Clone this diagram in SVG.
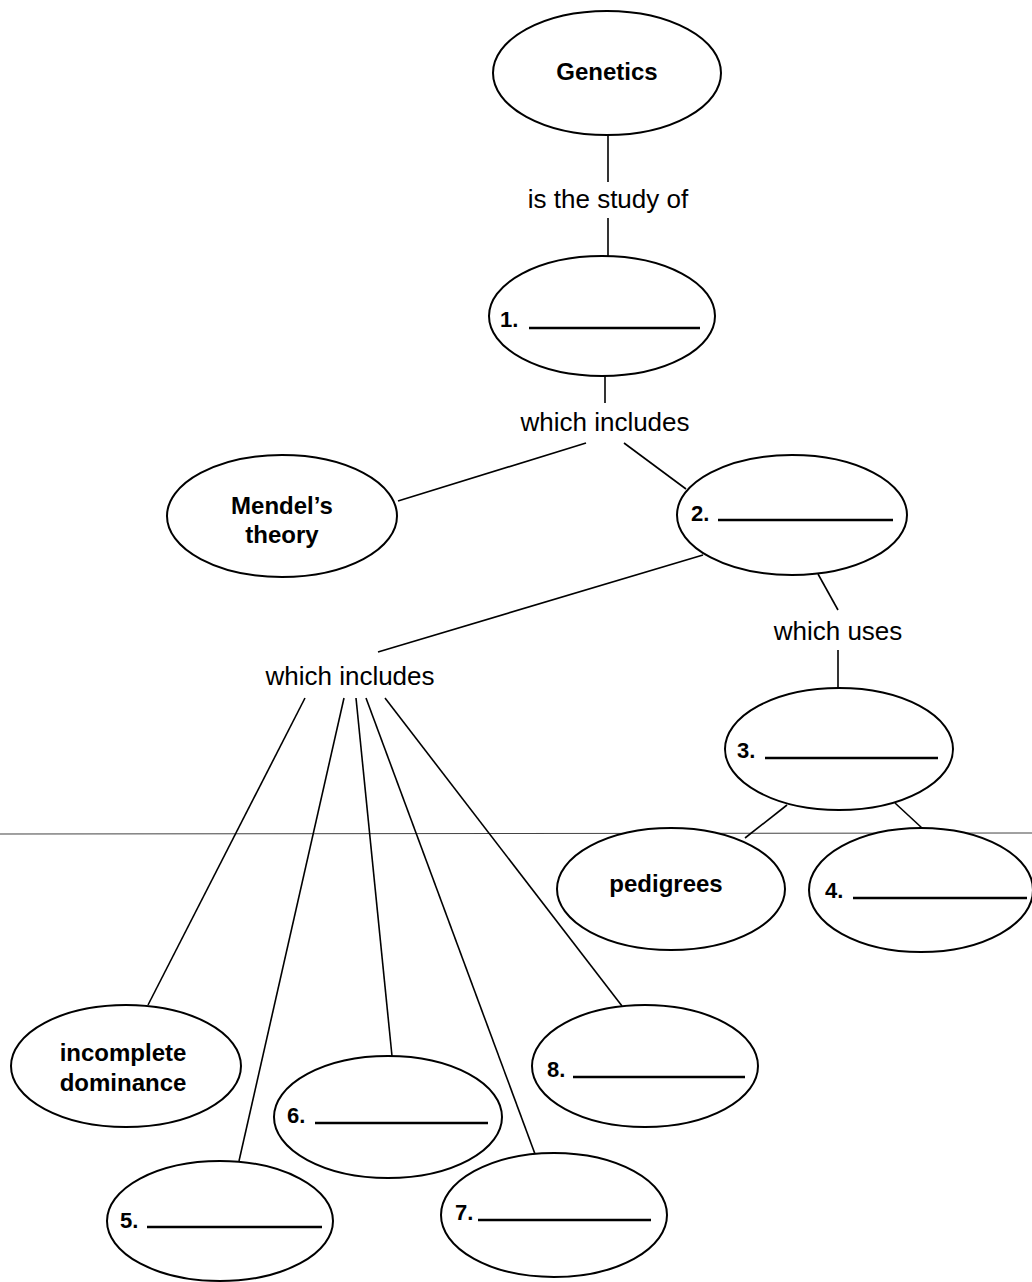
<svg xmlns="http://www.w3.org/2000/svg" width="1032" height="1282" viewBox="0 0 1032 1282">
<style>
.node ellipse{fill:#fff;stroke:#000;stroke-width:2}
.lbl{font-family:"Liberation Sans",Arial,sans-serif;font-weight:bold;font-size:24px;fill:#000;text-anchor:middle}
.num{font-family:"Liberation Sans",Arial,sans-serif;font-weight:bold;font-size:22px;fill:#000}
.blank{stroke:#000;stroke-width:2.5}
.link{font-family:"Liberation Sans",Arial,sans-serif;font-size:26px;fill:#000;text-anchor:middle}
#connectors line{stroke:#000;stroke-width:1.6}
</style>
<rect width="1032" height="1282" fill="#fff"/>
<line x1="0" y1="834" x2="1032" y2="833" stroke="#444" stroke-width="1.2"/>
<g id="connectors">
<line x1="608" y1="135" x2="608" y2="182"/>
<line x1="608" y1="218" x2="608" y2="256"/>
<line x1="605" y1="376" x2="605" y2="403"/>
<line x1="398" y1="501" x2="586" y2="443"/>
<line x1="624" y1="443" x2="686" y2="489"/>
<line x1="703" y1="555" x2="378" y2="652"/>
<line x1="818" y1="574" x2="838" y2="610"/>
<line x1="838" y1="650" x2="838" y2="688"/>
<line x1="787" y1="805" x2="745" y2="838"/>
<line x1="895" y1="803" x2="922" y2="828"/>
<line x1="305" y1="698" x2="148" y2="1005"/>
<line x1="344" y1="698" x2="239" y2="1161"/>
<line x1="356" y1="698" x2="392" y2="1056"/>
<line x1="366" y1="698" x2="535" y2="1154"/>
<line x1="385" y1="698" x2="622" y2="1006"/>
<text class="link" x="608" y="208">is the study of</text>
<text class="link" x="605" y="431">which includes</text>
<text class="link" x="838" y="640">which uses</text>
<text class="link" x="350" y="685">which includes</text>
</g>
<g id="genetics" class="node">
<ellipse cx="607" cy="73" rx="114" ry="62"/>
<text class="lbl" x="607" y="80">Genetics</text>
</g>
<g id="n1" class="node">
<ellipse cx="602" cy="316" rx="113" ry="60"/>
<text class="num" x="500" y="327">1.</text>
<line class="blank" x1="529" y1="328" x2="700" y2="328"/>
</g>
<g id="mendel" class="node">
<ellipse cx="282" cy="516" rx="115" ry="61"/>
<text class="lbl" x="282" y="514">Mendel’s</text>
<text class="lbl" x="282" y="543">theory</text>
</g>
<g id="n2" class="node">
<ellipse cx="792" cy="515" rx="115" ry="60"/>
<text class="num" x="691" y="521">2.</text>
<line class="blank" x1="718" y1="520" x2="893" y2="520"/>
</g>
<g id="n3" class="node">
<ellipse cx="839" cy="749" rx="114" ry="61"/>
<text class="num" x="737" y="758">3.</text>
<line class="blank" x1="765" y1="758" x2="938" y2="758"/>
</g>
<g id="pedigrees" class="node">
<ellipse cx="671" cy="889" rx="114" ry="61"/>
<text class="lbl" x="666" y="892">pedigrees</text>
</g>
<g id="n4" class="node">
<ellipse cx="921" cy="890" rx="112" ry="62"/>
<text class="num" x="825" y="898">4.</text>
<line class="blank" x1="853" y1="898" x2="1027" y2="898"/>
</g>
<g id="incomplete" class="node">
<ellipse cx="126" cy="1066" rx="115" ry="61"/>
<text class="lbl" x="123" y="1061">incomplete</text>
<text class="lbl" x="123" y="1091">dominance</text>
</g>
<g id="n6" class="node">
<ellipse cx="388" cy="1117" rx="114" ry="61"/>
<text class="num" x="287" y="1123">6.</text>
<line class="blank" x1="315" y1="1123" x2="488" y2="1123"/>
</g>
<g id="n8" class="node">
<ellipse cx="645" cy="1066" rx="113" ry="61"/>
<text class="num" x="547" y="1077">8.</text>
<line class="blank" x1="573" y1="1077" x2="745" y2="1077"/>
</g>
<g id="n5" class="node">
<ellipse cx="220" cy="1221" rx="113" ry="60"/>
<text class="num" x="120" y="1228">5.</text>
<line class="blank" x1="147" y1="1227" x2="322" y2="1227"/>
</g>
<g id="n7" class="node">
<ellipse cx="554" cy="1215" rx="113" ry="62"/>
<text class="num" x="455" y="1220">7.</text>
<line class="blank" x1="478" y1="1220" x2="651" y2="1220"/>
</g>
</svg>
